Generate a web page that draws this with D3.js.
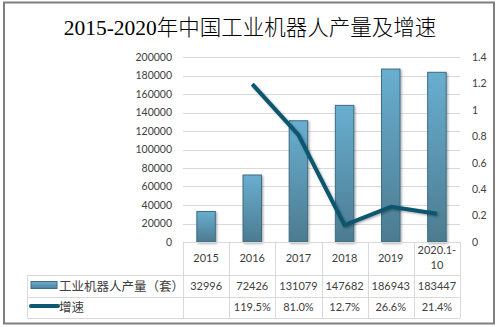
<!DOCTYPE html>
<html><head><meta charset="utf-8">
<script src="https://cdn.jsdelivr.net/npm/d3@7"></script>
<style>body{margin:0;background:#fff}svg{display:block}</style>
</head><body>
<script>
const title = "2015-2020年中国工业机器人产量及增速";
const categories = ["2015","2016","2017","2018","2019","2020.1-10"];
const production = [32996,72426,131079,147682,186943,183447];
const growth = [null,1.195,0.81,0.127,0.266,0.214];
const growthLabels = ["","119.5%","81.0%","12.7%","26.6%","21.4%"];
const leftTicks = [0,20000,40000,60000,80000,100000,120000,140000,160000,180000,200000];
const rightTicks = [0,0.2,0.4,0.6,0.8,1,1.2,1.4];
const seriesNames = ["工业机器人产量（套）","增速"];

const W=499,H=327;
const svg=d3.select("body").append("svg").attr("width",W).attr("height",H);
const defs=svg.append("defs");
const g=defs.append("linearGradient").attr("id","bg").attr("x1",0).attr("y1",0).attr("x2",0).attr("y2",1);
g.append("stop").attr("offset","0%").attr("stop-color","#69aed0");
g.append("stop").attr("offset","100%").attr("stop-color","#4c7b90");
const g2=defs.append("linearGradient").attr("id","lg").attr("x1",0).attr("y1",0).attr("x2",0).attr("y2",1);
g2.append("stop").attr("offset","0%").attr("stop-color","#6cb0d2");
g2.append("stop").attr("offset","100%").attr("stop-color","#4f8099");
const f=defs.append("filter").attr("id","sh").attr("x","-20%").attr("y","-20%").attr("width","150%").attr("height","150%");
f.append("feDropShadow").attr("dx",1.2).attr("dy",1.2).attr("stdDeviation",1).attr("flood-color","#000").attr("flood-opacity",0.35);

svg.append("rect").attr("x",4).attr("y",2.5).attr("width",490).attr("height",321).attr("fill","#fff").attr("stroke","#7f7f7f").attr("stroke-width",2);

svg.append("text").attr("x",250).attr("y",35).attr("text-anchor","middle")
  .attr("font-family","'Liberation Serif','Noto Sans CJK SC',serif").attr("font-weight",300).attr("font-size",21.5).attr("fill","#000").text(title);

const x0=183,x1=460,yTop=57,yBot=242;
const x=d3.scaleBand().domain(categories).range([x0,x1]);
const yL=d3.scaleLinear().domain([0,200000]).range([yBot,yTop]);
const yR=d3.scaleLinear().domain([0,1.4]).range([yBot,yTop]);
const font="Lato,'Noto Sans CJK SC',sans-serif";
const tc="#404040";

// gridlines
svg.append("g").selectAll("line").data(leftTicks.slice(1)).join("line")
  .attr("x1",x0).attr("x2",x1).attr("y1",d=>Math.round(yL(d))+0.5).attr("y2",d=>Math.round(yL(d))+0.5)
  .attr("stroke","#d9d9d9").attr("stroke-width",1);

// left axis
const la=svg.append("g").attr("transform",`translate(172,0)`)
  .call(d3.axisLeft(yL).tickValues(leftTicks).tickSize(0).tickPadding(0).tickFormat(d3.format("d")));
la.select(".domain").remove();
la.selectAll("text").attr("font-family",font).attr("font-size",10.5).attr("fill",tc).attr("text-anchor","end");
// right axis
const ra=svg.append("g").attr("transform",`translate(472,0)`)
  .call(d3.axisRight(yR).tickValues(rightTicks).tickSize(0).tickPadding(0).tickFormat(d=>String(+d.toFixed(1))));
ra.select(".domain").remove();
ra.selectAll("text").attr("font-family",font).attr("font-size",10.5).attr("fill",tc).attr("text-anchor","start");

// bars
const bw=x.bandwidth()*0.4;
svg.append("g").selectAll("rect").data(production).join("rect")
  .attr("x",(d,i)=>x(categories[i])+x.bandwidth()/2-bw/2)
  .attr("width",bw)
  .attr("y",d=>yL(d)).attr("height",d=>yBot-yL(d))
  .attr("fill","url(#bg)").attr("stroke","#3e6d82").attr("stroke-width",1)
  .attr("filter","url(#sh)");

// line
const pts=categories.map((c,i)=>({c,v:growth[i]})).filter(d=>d.v!=null);
const line=d3.line().x(d=>x(d.c)+x.bandwidth()/2).y(d=>yR(d.v));
svg.append("path").datum(pts).attr("d",line).attr("fill","none").attr("stroke","#0b5670")
  .attr("stroke-width",4).attr("stroke-linejoin","round").attr("filter","url(#sh)");

// data table
const rows=[242,275,297,318];
const lc="#d9d9d9";
const tbl=svg.append("g");
tbl.append("line").attr("x1",x0).attr("x2",x1).attr("y1",rows[0]+0.5).attr("y2",rows[0]+0.5).attr("stroke",lc);
[rows[1],rows[2],rows[3]].forEach(y=>tbl.append("line").attr("x1",27).attr("x2",x1).attr("y1",y+0.5).attr("y2",y+0.5).attr("stroke",lc));
const colEdges=categories.map(c=>x(c)).concat([x1]);
tbl.selectAll("line.v").data(colEdges).join("line").attr("class","v")
  .attr("x1",d=>Math.round(d)+0.5).attr("x2",d=>Math.round(d)+0.5).attr("y1",rows[0]).attr("y2",rows[3]).attr("stroke",lc);
tbl.append("line").attr("x1",27.5).attr("x2",27.5).attr("y1",rows[1]).attr("y2",rows[3]).attr("stroke",lc);

// header
categories.forEach((c,i)=>{
  const cx=x(c)+x.bandwidth()/2;
  const t=tbl.append("text").attr("x",cx).attr("text-anchor","middle").attr("font-family",font).attr("font-size",11).attr("fill",tc);
  if(c.length>6){
    const parts=[c.slice(0,7),c.slice(7)];
    t.append("tspan").attr("x",cx).attr("y",254).text(parts[0]);
    t.append("tspan").attr("x",cx).attr("y",269).text(parts[1]);
  } else {
    t.attr("y",262).text(c);
  }
  tbl.append("text").attr("x",cx).attr("y",290).attr("text-anchor","middle").attr("font-family",font).attr("font-size",11).attr("fill",tc).text(production[i]);
  tbl.append("text").attr("x",cx).attr("y",311).attr("text-anchor","middle").attr("font-family",font).attr("font-size",11).attr("fill",tc).text(growthLabels[i]);
});
// legend keys
tbl.append("rect").attr("x",31).attr("y",281.5).attr("width",26).attr("height",7).attr("fill","url(#lg)").attr("stroke","#3e6d82").attr("stroke-width",1);
tbl.append("line").attr("x1",31).attr("x2",58).attr("y1",306).attr("y2",306).attr("stroke","#0b5670").attr("stroke-width",4).attr("stroke-linecap","round");
tbl.append("text").attr("x",59).attr("y",290.5).attr("font-family",font).attr("font-size",12.5).attr("fill",tc).text(seriesNames[0]);
tbl.append("text").attr("x",59).attr("y",311.5).attr("font-family",font).attr("font-size",12.5).attr("fill",tc).text(seriesNames[1]);
</script>
</body></html>
